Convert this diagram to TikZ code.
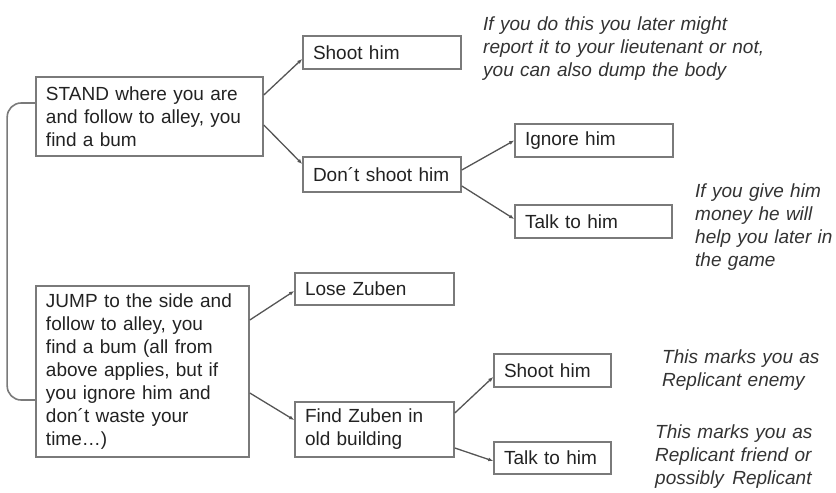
\documentclass[tikz,border=0pt]{standalone}
\usepackage{fontspec}
\setmainfont{Liberation Sans}
\usetikzlibrary{arrows.meta,calc}
\definecolor{boxline}{HTML}{7A7A7A}
\definecolor{arrowline}{HTML}{555555}
\definecolor{boxtext}{HTML}{222222}
\definecolor{notetext}{HTML}{333333}
\tikzset{
  basefont/.style={font=\fontsize{19bp}{23bp}\selectfont},
  box/.style={basefont, draw=boxline, line width=1.6bp, rectangle, text=boxtext,
    align=left, inner xsep=10bp, inner ysep=0bp},
  note/.style={font=\fontsize{19bp}{23bp}\selectfont\itshape, text=notetext,
    align=left, inner sep=0bp, anchor=base west},
  conn/.style={draw=arrowline, line width=1.3bp, -{Latex[length=5bp,width=4bp]}},
  bracket/.style={draw=boxline, line width=1.6bp, rounded corners=14bp}
}
\begin{document}
\begin{tikzpicture}[x=1bp,y=-1bp]
\useasboundingbox (0,0) rectangle (836,493);

\node[box, minimum width=227bp, minimum height=79bp, text width=207bp] (stand) at (149.5,116.5)
  {STAND where you are\\and follow to alley, you\\find a bum};
\node[box, minimum width=213bp, minimum height=171bp, text width=193bp] (jump) at (142.5,371.5)
  {JUMP to the side and\\follow to alley, you\\find a bum (all from\\above applies, but if\\you ignore him and\\don´t waste your\\time…)};

\node[box, minimum width=158bp, minimum height=33bp, text width=138bp] (shoot1) at (382,52.5) {Shoot him};
\node[box, minimum width=158bp, minimum height=35bp, text width=138bp] (dont) at (382,174.5) {Don´t shoot him};
\node[box, minimum width=158bp, minimum height=33bp, text width=138bp] (ignore) at (594,140.5) {Ignore him};
\node[box, minimum width=157bp, minimum height=33bp, text width=137bp] (talk1) at (593.5,221.5) {Talk to him};
\node[box, minimum width=159bp, minimum height=32bp, text width=139bp] (lose) at (374.5,289) {Lose Zuben};
\node[box, minimum width=159bp, minimum height=55bp, text width=139bp] (find) at (374.5,429.5) {Find Zuben in\\old building};
\node[box, minimum width=117bp, minimum height=33bp, text width=97bp] (shoot2) at (552.5,370.5) {Shoot him};
\node[box, minimum width=117bp, minimum height=32bp, text width=97bp] (talk2) at (552.5,458) {Talk to him};

\node[note, text width=300bp] (note1) at (483,31)
  {If you do this you later might\\report it to your lieutenant or not,\\you can also dump the body};
\node[note, text width=150bp] (note2) at (695,198)
  {If you give him\\money he will\\help you later in\\the game};
\node[note, text width=180bp] (note3) at (662,363)
  {This marks you as\\Replicant enemy};
\node[note, text width=180bp] (note4) at (655,438)
  {This marks you as\\Replicant friend or\\possibly\hspace{0.45em}Replicant};

\draw[conn] ($(stand.east)+(0,-21.5)$) -- ($(shoot1.west)+(0,6.5)$);
\draw[conn] ($(stand.east)+(0,8.5)$) -- ($(dont.west)+(0,-10.5)$);
\draw[conn] ($(dont.east)+(0,-4.5)$) -- (ignore.west);
\draw[conn] ($(dont.east)+(0,11.5)$) -- ($(talk1.west)+(0,-2.5)$);
\draw[conn] ($(jump.east)+(0,-51.5)$) -- ($(lose.west)+(0,2)$);
\draw[conn] ($(jump.east)+(0,21.5)$) -- ($(find.west)+(0,-9.5)$);
\draw[conn] ($(find.east)+(0,-16.5)$) -- ($(shoot2.west)+(0,6.5)$);
\draw[conn] ($(find.east)+(0,18.5)$) -- ($(talk2.west)+(0,3)$);

\draw[bracket] ($(stand.west)+(0,-13.5)$) -- ++(-28,0) |- ($(jump.west)+(0,28.5)$);
\end{tikzpicture}
\end{document}
